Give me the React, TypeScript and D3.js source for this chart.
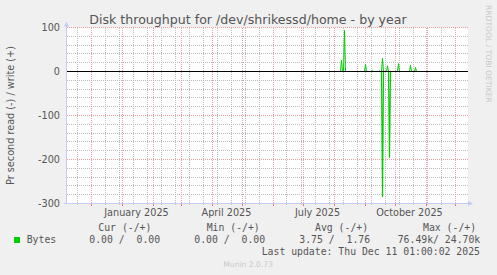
import React from "react";
import * as d3 from "d3";

const TITLE = "Disk throughput for /dev/shrikessd/home - by year";
const Y_LABEL = "Pr second read (-) / write (+)";
const WATERMARK = "RRDTOOL / TOBI OETIKER";
const FOOTER = "Munin 2.0.73";

const Y_TICKS = [100, 0, -100, -200, -300];
const X_LABELS = [
  { date: "2025-01-16", text: "January 2025" },
  { date: "2025-04-16", text: "April 2025" },
  { date: "2025-07-16", text: "July 2025" },
  { date: "2025-10-16", text: "October 2025" },
];

// write (+) series: [date, value]
const WRITE: [string, number][] = [
  ["2024-11-08", 0],
  ["2025-08-08", 0],
  ["2025-08-09", 25],
  ["2025-08-10", 0],
  ["2025-08-11", 0],
  ["2025-08-12", 94],
  ["2025-08-13", 0],
  ["2025-09-01", 0],
  ["2025-09-02", 16],
  ["2025-09-03", 0],
  ["2025-09-08", 0],
  ["2025-09-09", 2],
  ["2025-09-10", 0],
  ["2025-09-15", 0],
  ["2025-09-16", 2],
  ["2025-09-17", 0],
  ["2025-09-18", 0],
  ["2025-09-19", 30],
  ["2025-09-20", 0],
  ["2025-09-23", 0],
  ["2025-09-24", 13],
  ["2025-09-25", 0],
  ["2025-10-04", 0],
  ["2025-10-05", 18],
  ["2025-10-06", 0],
  ["2025-10-16", 0],
  ["2025-10-17", 14],
  ["2025-10-18", 0],
  ["2025-10-21", 0],
  ["2025-10-22", 9],
  ["2025-10-23", 0],
  ["2025-12-11", 0],
];

// read (-) series: [date, value]
const READ: [string, number][] = [
  ["2024-11-08", 0],
  ["2025-09-18", 0],
  ["2025-09-19", 285],
  ["2025-09-20", 0],
  ["2025-09-25", 0],
  ["2025-09-26", 196],
  ["2025-09-27", 0],
  ["2025-12-11", 0],
];

const LEGEND_HEAD = [
  { x: 98.3, text: "Cur (-/+)" },
  { x: 206.7, text: "Min (-/+)" },
  { x: 315, text: "Avg (-/+)" },
  { x: 423, text: "Max (-/+)" },
];
const LEGEND_ROW = [
  { x: 89.3, text: "0.00 /  0.00" },
  { x: 194.3, text: "0.00 /  0.00" },
  { x: 299.3, text: "3.75 /  1.76" },
  { x: 397.7, text: "76.49k/ 24.70k" },
];
const SERIES_NAME = "Bytes";
const LAST_UPDATE = "Last update: Thu Dec 11 01:00:02 2025";

const W = 497;
const H = 275;
const PL = 67;
const PR = 467;
const PT = 27.5;
const PB = 203.5;

const d = (s: string) => new Date(s + "T00:00:00Z");

export default function App() {
  const x = d3
    .scaleUtc()
    .domain([new Date("2024-11-07T12:00:00Z"), new Date("2025-12-12T12:00:00Z")])
    .range([PL, PR]);
  const y = d3.scaleLinear().domain([-300, 100]).range([PB, PT]);

  const [, t1] = x.domain();
  const months = d3.utcMonth.range(x.domain()[0], t1);
  const minor = d3.utcDay.range(new Date("2024-11-17T00:00:00Z"), t1, 14);
  const yMinor = d3.range(-300, 101, 20);
  const yMajor = [-300, -200, -100, 0, 100];

  const line = d3
    .line<[string, number]>()
    .x((p) => x(d(p[0])))
    .y((p) => y(p[1]));
  const lineNeg = d3
    .line<[string, number]>()
    .x((p) => x(d(p[0])))
    .y((p) => y(-p[1]));

  const txt = "#555555";
  const font = "DejaVu Sans, sans-serif";
  const mono = "DejaVu Sans Mono, monospace";
  const axisC = "#c4cbf4";
  const gy = (v: number) => Math.floor(y(v)) + 0.5;
  const gx = (t: Date) => Math.round(x(t)) + 0.5;
  const top = 28;
  const bot = 203;
  const minorC = "#bdbdbd";
  const majorC = "#eca2a2";

  return (
    <svg
      width={W}
      height={H}
      style={{ position: "absolute", left: 0, top: 0, background: "#f0f0f0" }}
    >
      <rect x={0} y={0} width={W} height={H} fill="#f0f0f0" />
      <rect x={PL} y={top} width={PR - PL + 1} height={bot - top} fill="#ffffff" />
      {/* minor horizontal grid */}
      {yMinor
        .filter((v) => v % 100 !== 0)
        .map((v) => (
          <line
            key={"hm" + v}
            x1={PL}
            x2={PR + 1}
            y1={gy(v)}
            y2={gy(v)}
            stroke={minorC}
            strokeDasharray="1,1"
            shapeRendering="crispEdges"
          />
        ))}
      {/* minor vertical grid */}
      {minor.map((t, i) => (
        <g key={"vm" + i}>
          <line
            x1={gx(t)}
            x2={gx(t)}
            y1={top}
            y2={bot}
            stroke={minorC}
            strokeDasharray="1,1"
            shapeRendering="crispEdges"
          />
          <line
            x1={gx(t)}
            x2={gx(t)}
            y1={bot}
            y2={bot + 2}
            stroke="#c8c8c8"
            shapeRendering="crispEdges"
          />
        </g>
      ))}
      {/* major horizontal grid */}
      {yMajor.map((v) => (
        <line
          key={"hM" + v}
          x1={PL}
          x2={PR + 1}
          y1={gy(v)}
          y2={gy(v)}
          stroke={majorC}
          strokeDasharray="1,1"
          shapeRendering="crispEdges"
        />
      ))}
      {/* major vertical grid */}
      {months.map((t, i) => (
        <g key={"vM" + i}>
          <line
            x1={gx(t)}
            x2={gx(t)}
            y1={top}
            y2={bot}
            stroke={majorC}
            strokeDasharray="1,1"
            shapeRendering="crispEdges"
          />
          <line
            x1={gx(t)}
            x2={gx(t)}
            y1={bot}
            y2={bot + 3}
            stroke="#e07878"
            shapeRendering="crispEdges"
          />
        </g>
      ))}
      {/* data */}
      <path d={line(WRITE) || ""} fill="none" stroke="#00cc00" strokeWidth={1} />
      <path d={lineNeg(READ) || ""} fill="none" stroke="#00cc00" strokeWidth={1.2} />
      {/* zero line */}
      <line
        x1={PL}
        x2={PR + 1}
        y1={gy(0)}
        y2={gy(0)}
        stroke="#000000"
        strokeWidth={1.2}
        shapeRendering="crispEdges"
      />
      {/* axes */}
      <line
        x1={PL - 0.5}
        x2={PL - 0.5}
        y1={bot + 1}
        y2={PT - 3}
        stroke={axisC}
        shapeRendering="crispEdges"
      />
      <path
        d={`M${PL - 3},${PT - 1} L${PL - 0.5},${PT - 6} L${PL + 2},${PT - 1} Z`}
        fill={axisC}
      />
      <line
        x1={PL - 3}
        x2={PR + 2}
        y1={bot + 0.5}
        y2={bot + 0.5}
        stroke={axisC}
        shapeRendering="crispEdges"
      />
      <path
        d={`M${PR + 1},${bot - 2} L${PR + 6},${bot + 0.5} L${PR + 1},${bot + 3} Z`}
        fill={axisC}
      />
      {/* y tick labels */}
      {Y_TICKS.map((v) => (
        <text
          key={"yl" + v}
          x={60}
          y={y(v) + 3.5}
          textAnchor="end"
          fontFamily={font}
          fontSize={9.7}
          fill={txt}
        >
          {v}
        </text>
      ))}
      {/* x labels */}
      {X_LABELS.map((l) => (
        <text
          key={l.text}
          x={x(d(l.date))}
          y={216}
          textAnchor="middle"
          fontFamily={font}
          fontSize={9.7}
          fill={txt}
        >
          {l.text}
        </text>
      ))}
      {/* title */}
      <text
        x={248}
        y={24}
        textAnchor="middle"
        fontFamily={font}
        fontSize={12.6}
        fill={txt}
      >
        {TITLE}
      </text>
      {/* y label */}
      <text
        transform={`translate(13.5,${(PT + PB) / 2}) rotate(-90)`}
        textAnchor="middle"
        fontFamily={font}
        fontSize={9.7}
        fill={txt}
      >
        {Y_LABEL}
      </text>
      {/* watermark */}
      <text
        transform="translate(485.5,5) rotate(90)"
        fontFamily={font}
        fontSize={7.6}
        fill="#c8c8c8"
      >
        {WATERMARK}
      </text>
      {/* legend */}
      {LEGEND_HEAD.map((l) => (
        <text
          key={l.text}
          x={l.x}
          y={231}
          fontFamily={mono}
          fontSize={9.8}
          fill={txt}
          style={{ whiteSpace: "pre" }}
        >
          {l.text}
        </text>
      ))}
      <rect x={14} y={237} width={6} height={6} fill="#00cc00" />
      <text x={26.7} y={243} fontFamily={mono} fontSize={9.8} fill={txt}>
        {SERIES_NAME}
      </text>
      {LEGEND_ROW.map((l, i) => (
        <text
          key={"lr" + i}
          x={l.x}
          y={243}
          fontFamily={mono}
          fontSize={9.8}
          fill={txt}
          style={{ whiteSpace: "pre" }}
        >
          {l.text}
        </text>
      ))}
      <text
        x={261.7}
        y={255.3}
        fontFamily={mono}
        fontSize={9.8}
        fill={txt}
        style={{ whiteSpace: "pre" }}
      >
        {LAST_UPDATE}
      </text>
      <text
        x={223.3}
        y={266.5}
        fontFamily={font}
        fontSize={7.6}
        fill="#c8c8c8"
      >
        {FOOTER}
      </text>
    </svg>
  );
}
